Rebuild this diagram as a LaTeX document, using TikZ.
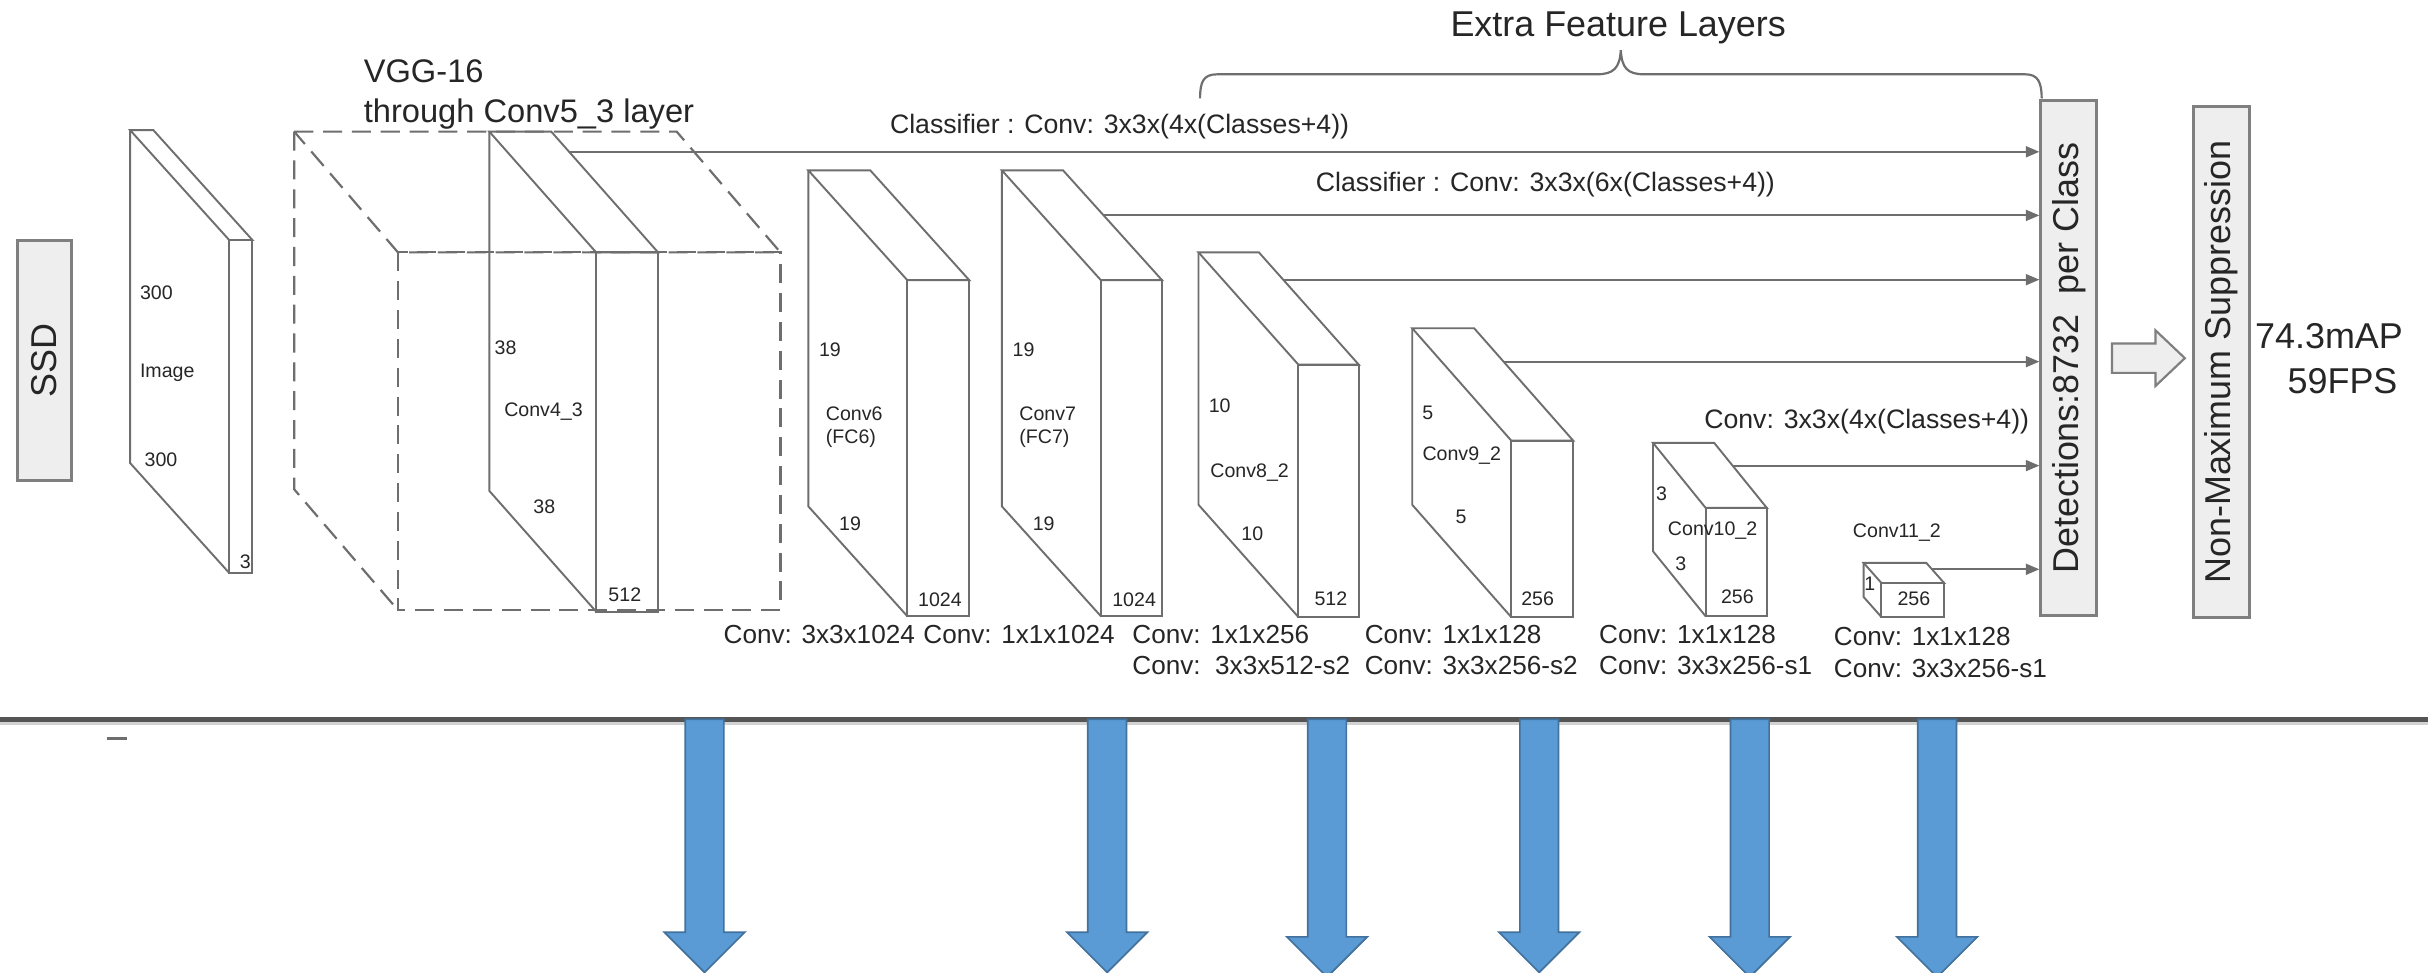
\documentclass[tikz,border=0pt]{standalone}
\usepackage{fontspec}
\setmainfont{Liberation Sans}
\usepackage{graphicx}
\usetikzlibrary{arrows.meta, positioning, calc}
\definecolor{edge}{HTML}{6E6E6E}
\definecolor{boxline}{HTML}{7F7F7F}
\definecolor{boxfill}{HTML}{EEEEEE}
\definecolor{ink}{HTML}{262626}
\definecolor{rulegray}{HTML}{555555}
\definecolor{skyblue}{HTML}{5B9BD5}
\definecolor{deepblue}{HTML}{41719C}
\tikzset{
  fmapline/.style={draw=edge, line width=0.7pt, line join=miter},
  vggline/.style={fmapline, line width=0.8pt, dash pattern=on 7pt off 3.6pt},
  panel/.style={rectangle, draw=boxline, fill=boxfill, line width=1.1pt, inner sep=0pt, text=ink},
  dimtext/.style={font=\fontsize{7.2}{8.5}\selectfont, text=ink, inner sep=0pt},
  convtext/.style={font=\fontsize{9.6}{11}\selectfont, text=ink, inner sep=0pt, anchor=west},
  headtext/.style={font=\fontsize{9.8}{11}\selectfont, text=ink, inner sep=0pt},
  bigtext/.style={font=\fontsize{13.2}{15}\selectfont, text=ink, inner sep=0pt},
  feed/.style={-{Triangle[length=5pt,width=4pt]}, draw=edge, line width=0.8pt},
  hollow/.style={draw=boxline, fill=boxfill, line width=0.8pt, line join=miter},
  outflow/.style={draw=deepblue, fill=skyblue, line width=0.6pt, line join=miter},
}
% feature map block: [style]{name}{x}{y}{dx}{dy}{w}{h}
\newcommand{\fmap}[8][fmapline]{%
  \coordinate (#2-tr) at (#3+#7,#4);
  \coordinate (#2-ftr) at (#3+#5+#7,#4+#6);
  \draw[#1] (#3,#4) -- (#2-tr) -- (#2-ftr) -- (#3+#5,#4+#6) -- cycle;
  \draw[#1] (#3,#4) -- (#3,#4+#8) -- (#3+#5,#4+#6+#8);
  \draw[#1] (#3+#5,#4+#6) rectangle (#3+#5+#7,#4+#6+#8);
}

\begin{document}
\begin{tikzpicture}[x=0.02cm, y=-0.02cm]
  \fill[white] (0,0) rectangle (1568,628);
  \useasboundingbox (0,0) rectangle (1568,628);

  % side boxes
  \node[panel, bigtext, minimum width=0.70cm, minimum height=3.10cm] (ssd) at (28.5,233) {\rotatebox{90}{SSD}};
  \node[panel, bigtext, minimum width=0.72cm, minimum height=6.65cm] (det) at (1336,231.3)
    {\rotatebox{90}{Detections:8732\ \ per Class}};
  \node[panel, bigtext, minimum width=0.72cm, minimum height=6.60cm] (nms) at (1434.5,233.9)
    {\rotatebox{90}{Non-Maximum Suppression}};
  \node[bigtext, anchor=west] (map) at (1456,217) {74.3mAP};
  \node[bigtext, anchor=west] (fps) at (1477,246) {59FPS};

  % feature maps
  \fmap{img}{84}{84}{64}{71}{15}{215}
  \fmap[vggline]{vgg}{190}{85}{67}{78}{247}{231}
  \fmap{c43}{316}{85}{69}{78}{40}{232}
  \fmap{c6}{522}{110}{64}{71}{40}{217}
  \fmap{c7}{647}{110}{64}{71}{39.5}{217}
  \fmap{c8}{774}{163}{64.5}{72.5}{39}{163}
  \fmap{c9}{912}{212}{64}{72.6}{40}{114}
  \fmap{c10}{1067.5}{286}{34}{42}{39.5}{70}
  \fmap{c11}{1203.5}{363.5}{11.5}{13}{40.5}{22}

  \node[font=\fontsize{12}{14.7}\selectfont, text=ink, inner sep=0pt, align=left, anchor=north west] (vggname)
    at (234.6,38) {VGG-16\\through Conv5\_3 layer};

  % sizes inside the maps
  \node[dimtext] (img-a) at (101,189) {300};
  \node[dimtext] (img-b) at (108,241) {Image};
  \node[dimtext] (img-c) at (104,297) {300};
  \node[dimtext] (img-d) at (158.5,362.5) {3};
  \node[dimtext] (c43-a) at (326.5,224.5) {38};
  \node[dimtext] (c43-b) at (351,265.5) {Conv4\_3};
  \node[dimtext] (c43-c) at (351.5,327.5) {38};
  \node[dimtext] (c43-d) at (403.5,384) {512};
  \node[dimtext] (c6-a) at (536,226) {19};
  \node[dimtext, align=left, anchor=west] (c6-b) at (533,276) {Conv6\\(FC6)};
  \node[dimtext] (c6-c) at (549,338) {19};
  \node[dimtext] (c6-d) at (607,387.6) {1024};
  \node[dimtext] (c7-a) at (661,226) {19};
  \node[dimtext, align=left, anchor=west] (c7-b) at (658,276) {Conv7\\(FC7)};
  \node[dimtext] (c7-c) at (674,338) {19};
  \node[dimtext] (c7-d) at (732.4,387.6) {1024};
  \node[dimtext] (c8-a) at (787.7,262) {10};
  \node[dimtext] (c8-b) at (807,305.4) {Conv8\_2};
  \node[dimtext] (c8-c) at (808.7,345) {10};
  \node[dimtext] (c8-d) at (859.5,386.6) {512};
  \node[dimtext] (c9-a) at (922,266.5) {5};
  \node[dimtext] (c9-b) at (944,294.5) {Conv9\_2};
  \node[dimtext] (c9-c) at (943.5,333.7) {5};
  \node[dimtext] (c9-d) at (993,386.4) {256};
  \node[dimtext] (c10-a) at (1073,318.6) {3};
  \node[dimtext] (c10-b) at (1106,342.7) {Conv10\_2};
  \node[dimtext] (c10-c) at (1085.5,364.2) {3};
  \node[dimtext] (c10-d) at (1122,385.3) {256};
  \node[dimtext] (c11-b) at (1225,344.2) {Conv11\_2};
  \node[dimtext] (c11-a) at (1207.5,377) {1};
  \node[dimtext] (c11-d) at (1236,386.4) {256};

  % layer settings under the maps
  \node[convtext] (s6) at (467,409.5) {Conv: 3x3x1024};
  \node[convtext] (s7) at (596,409.5) {Conv: 1x1x1024};
  \node[convtext] (s8a) at (731,409.5) {Conv: 1x1x256};
  \node[convtext] (s8b) at (731,430) {Conv:\ \ 3x3x512-s2};
  \node[convtext] (s9a) at (881,409.5) {Conv: 1x1x128};
  \node[convtext] (s9b) at (881,430) {Conv: 3x3x256-s2};
  \node[convtext] (s10a) at (1032.4,410) {Conv: 1x1x128};
  \node[convtext] (s10b) at (1032.4,430) {Conv: 3x3x256-s1};
  \node[convtext] (s11a) at (1184,411) {Conv: 1x1x128};
  \node[convtext] (s11b) at (1184,432) {Conv: 3x3x256-s1};

  % classifier feeds
  \coordinate (c43-out) at ($(c43-tr)!0.167!(c43-ftr)$);
  \coordinate (c7-out) at ($(c7-tr)!0.41!(c7-ftr)$);
  \coordinate (c8-out) at ($(c8-tr)!0.243!(c8-ftr)$);
  \coordinate (c9-out) at ($(c9-tr)!0.297!(c9-ftr)$);
  \coordinate (c10-out) at ($(c10-tr)!0.35!(c10-ftr)$);
  \coordinate (c11-out) at ($(c11-tr)!0.32!(c11-ftr)$);
  \foreach \f in {c43,c7,c8,c9,c10,c11}
    \draw[feed] (\f-out) -- (\f-out -| det.west);

  \node[headtext] (cls4) at (723,82) {Classifier : Conv: 3x3x(4x(Classes+4))};
  \node[headtext] (cls6) at (998,119.5) {Classifier : Conv: 3x3x(6x(Classes+4))};
  \node[headtext] (cls10) at (1205.5,272.3) {Conv: 3x3x(4x(Classes+4))};

  % extra layers brace
  \draw[edge, line width=0.8pt] (775,63.5) .. controls (775,53) and (777,48) .. (786,48) -- (1031,48)
    .. controls (1042,48) and (1046,44) .. (1046.7,32.5)
    .. controls (1047.4,44) and (1051,48) .. (1062,48) -- (1308,48)
    .. controls (1316,48) and (1318.5,53) .. (1318.5,63.5);
  \node[bigtext] (extra) at (1045,18) {Extra Feature Layers};

  % to suppression
  \draw[hollow] ($(det.east)+(9,-9.5)$) -- ++(28,0) -- ++(0,-8.5) -- ++(19,18)
    -- ++(-19,18) -- ++(0,-8.5) -- ++(-28,0) -- cycle;

  % lower part
  \draw[gray!35, line width=1pt] (0,467) -- (1568,467);
  \draw[rulegray, line width=1.8pt] (0,464.5) -- (1568,464.5);
  \draw[edge, line width=1pt] (69,477) -- (82,477);
  \foreach \x/\h in {455/602,715/602,857/605,994/602,1130/605,1251/605}
    \draw[outflow] (\x-12.5,464.5) -- (\x+12.5,464.5) -- (\x+12.5,\h) -- (\x+26,\h)
      -- (\x,\h+26) -- (\x-26,\h) -- (\x-12.5,\h) -- cycle;
\end{tikzpicture}
\end{document}
